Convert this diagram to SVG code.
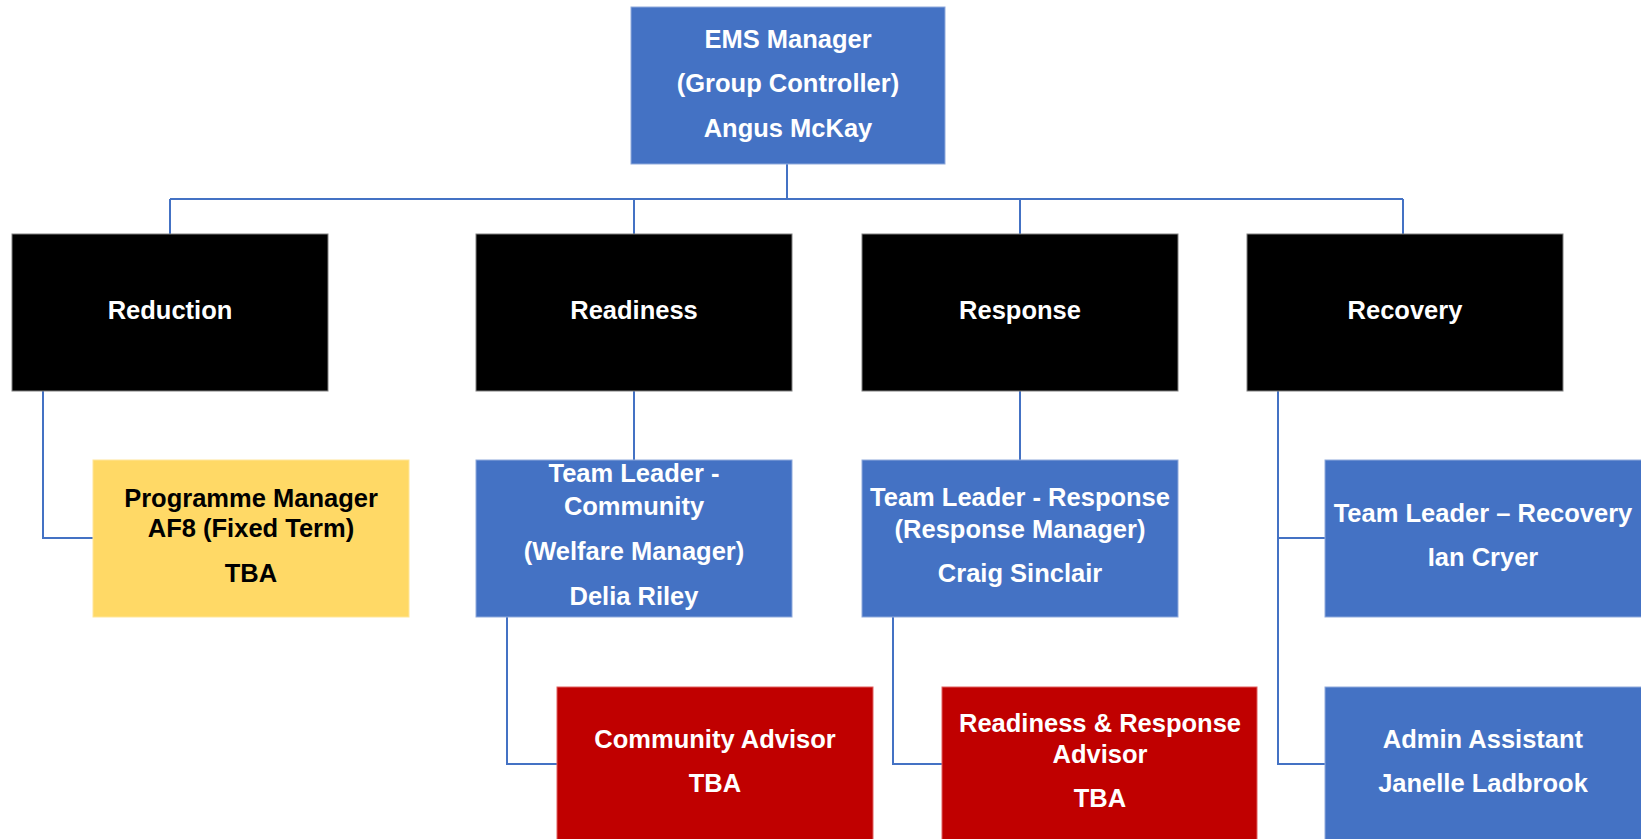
<svg xmlns="http://www.w3.org/2000/svg" width="1641" height="839" viewBox="0 0 1641 839">
<style>
.blue{fill:#4472C4;stroke:#8FAADC;stroke-width:1}
.black{fill:#000;stroke:#808080;stroke-width:1}
.red{fill:#C00000;stroke:#E06060;stroke-width:1}
.yellow{fill:#FFD966;stroke:#FFE699;stroke-width:1}
text{font-family:"Liberation Sans",Arial,sans-serif;font-weight:bold;font-size:25.5px;text-anchor:middle}
.w{fill:#fff}
.k{fill:#000}
.conn{fill:none;stroke:#4472C4;stroke-width:2}
</style>
<rect width="1641" height="839" fill="#fff"/>
<g id="connectors">
<path class="conn" d="M787,164 V199 M170,199 H1403 M170,199 V234 M634,199 V234 M1020,199 V234 M1403,199 V234"/>
<path class="conn" d="M43,391 V538 H93"/>
<path class="conn" d="M634,391 V460"/>
<path class="conn" d="M507,617 V764 H557"/>
<path class="conn" d="M1020,391 V460"/>
<path class="conn" d="M893,617 V764 H942"/>
<path class="conn" d="M1278,391 V764 H1325 M1278,538 H1325"/>
</g>
<g id="ems-manager">
<rect class="blue" x="631" y="7" width="314" height="157"/>
<text class="w" x="788" y="48">EMS Manager</text>
<text class="w" x="788" y="92">(Group Controller)</text>
<text class="w" x="788" y="137">Angus McKay</text>
</g>
<g id="reduction">
<rect class="black" x="12" y="234" width="316" height="157"/>
<text class="w" x="170" y="319">Reduction</text>
</g>
<g id="readiness">
<rect class="black" x="476" y="234" width="316" height="157"/>
<text class="w" x="634" y="319">Readiness</text>
</g>
<g id="response">
<rect class="black" x="862" y="234" width="316" height="157"/>
<text class="w" x="1020" y="319">Response</text>
</g>
<g id="recovery">
<rect class="black" x="1247" y="234" width="316" height="157"/>
<text class="w" x="1405" y="319">Recovery</text>
</g>
<g id="programme-manager">
<rect class="yellow" x="93" y="460" width="316" height="157"/>
<text class="k" x="251" y="507">Programme Manager</text>
<text class="k" x="251" y="537">AF8 (Fixed Term)</text>
<text class="k" x="251" y="582">TBA</text>
</g>
<g id="team-leader-community">
<rect class="blue" x="476" y="460" width="316" height="157"/>
<text class="w" x="634" y="482">Team Leader -</text>
<text class="w" x="634" y="515">Community</text>
<text class="w" x="634" y="560">(Welfare Manager)</text>
<text class="w" x="634" y="605">Delia Riley</text>
</g>
<g id="team-leader-response">
<rect class="blue" x="862" y="460" width="316" height="157"/>
<text class="w" x="1020" y="506">Team Leader - Response</text>
<text class="w" x="1020" y="538">(Response Manager)</text>
<text class="w" x="1020" y="582">Craig Sinclair</text>
</g>
<g id="team-leader-recovery">
<rect class="blue" x="1325" y="460" width="320" height="157"/>
<text class="w" x="1483" y="522">Team Leader – Recovery</text>
<text class="w" x="1483" y="566">Ian Cryer</text>
</g>
<g id="community-advisor">
<rect class="red" x="557" y="687" width="316" height="160"/>
<text class="w" x="715" y="748">Community Advisor</text>
<text class="w" x="715" y="792">TBA</text>
</g>
<g id="readiness-response-advisor">
<rect class="red" x="942" y="687" width="315" height="160"/>
<text class="w" x="1100" y="732">Readiness &amp; Response</text>
<text class="w" x="1100" y="763">Advisor</text>
<text class="w" x="1100" y="807">TBA</text>
</g>
<g id="admin-assistant">
<rect class="blue" x="1325" y="687" width="320" height="160"/>
<text class="w" x="1483" y="748">Admin Assistant</text>
<text class="w" x="1483" y="792">Janelle Ladbrook</text>
</g>
</svg>
